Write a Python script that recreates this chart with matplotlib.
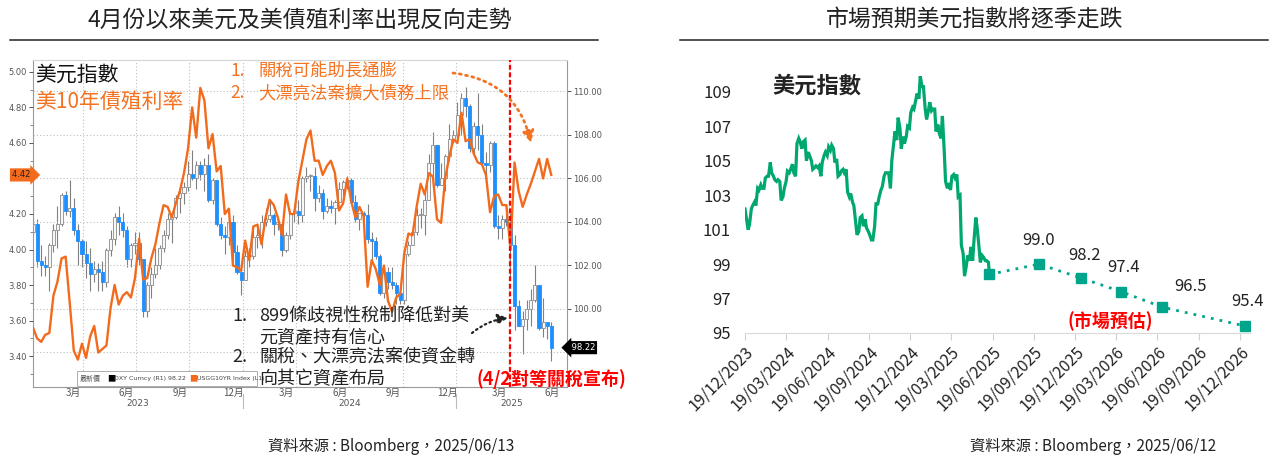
import matplotlib
matplotlib.use('Agg')
import matplotlib.pyplot as plt
import matplotlib.dates as mdates
import matplotlib.transforms as mtransforms
from matplotlib.patches import Rectangle
from matplotlib.ticker import FixedLocator, FuncFormatter, MultipleLocator
import pandas as pd

plt.rcParams['font.family'] = ['Noto Sans CJK TC', 'DejaVu Sans']

W, H = 1274, 459

# ---------------- left panel data: weekly DXY candles + US 10Y yield
week_end = pd.date_range('2023-01-06', '2025-06-13', freq='W-FRI')
dxy_first_open = 103.5
dxy_close = [
    # 2023
    103.9, 102.2, 102.0, 101.9, 102.9, 103.6, 103.9, 105.2, 104.5, 104.6, 103.6, 103.1, 102.5,
    102.1, 101.6, 101.8, 101.7, 101.2, 102.7, 103.2, 104.2, 104.0, 103.6, 102.3, 102.9, 103.0,
    102.3, 99.9, 101.1, 101.6, 102.0, 102.8, 103.4, 104.1, 104.2, 105.1, 105.3, 105.6, 106.2,
    106.0, 106.6, 106.2, 106.6, 105.0, 105.9, 103.9, 103.4, 103.3, 104.0, 102.6, 101.7, 101.3,
    # 2024
    102.4, 102.4, 103.3, 103.4, 104.0, 104.1, 104.3, 103.9, 103.9, 102.7, 103.4, 104.4, 104.5,
    104.3, 106.0, 106.1, 106.1, 105.1, 105.3, 104.5, 104.7, 104.6, 104.9, 105.5, 105.8, 105.9,
    104.9, 104.1, 104.4, 104.3, 103.2, 103.1, 102.4, 100.7, 101.7, 101.2, 101.1, 100.7, 100.4,
    102.5, 102.9, 103.5, 104.3, 104.3, 105.0, 106.7, 107.5, 105.7, 106.0, 107.0, 107.8, 108.0,
    # 2025
    108.9, 109.7, 109.3, 107.4, 108.4, 108.0, 106.7, 106.6, 107.6, 103.8, 103.7, 104.1, 104.0,
    102.9, 100.1, 99.2, 99.5, 100.0, 100.4, 101.1, 99.1, 99.4, 99.2, 98.2,
]
dxy_high = [
    105.0, 104.1, 102.9, 102.4, 103.0, 103.9, 104.7, 105.3, 105.4, 105.9, 105.1, 103.9, 103.2,
    103.1, 102.8, 102.2, 102.1, 102.2, 102.8, 103.6, 104.4, 104.7, 104.4, 103.8, 103.0, 103.5,
    103.5, 102.3, 101.2, 101.9, 102.8, 102.9, 103.6, 104.4, 104.2, 105.2, 105.4, 105.8, 106.8,
    107.3, 106.8, 106.8, 106.9, 107.1, 106.0, 105.9, 104.2, 103.8, 104.1, 104.3, 102.9, 101.9,
    102.7, 102.8, 103.7, 103.8, 104.3, 104.6, 105.0, 104.4, 104.2, 103.9, 103.5, 104.5, 104.6,
    105.0, 106.1, 106.5, 106.2, 106.5, 105.7, 105.5, 105.1, 105.0, 105.0, 105.8, 105.9, 106.1,
    106.0, 105.2, 104.4, 104.5, 104.8, 103.5, 103.3, 102.5, 101.8, 101.9, 101.9, 101.2, 101.0,
    102.7, 103.1, 103.9, 104.6, 104.6, 105.4, 107.1, 108.1, 107.5, 106.7, 107.1, 108.5, 108.2,
    109.5, 109.9, 110.2, 109.4, 108.6, 109.9, 108.5, 107.2, 107.7, 107.7, 104.3, 104.3, 104.7,
    104.4, 103.4, 100.4, 99.9, 100.4, 100.9, 102.0, 101.1, 100.5, 99.4, 99.4,
]
dxy_low = [
    103.4, 101.9, 101.5, 101.5, 100.8, 102.6, 102.8, 103.8, 104.3, 104.2, 103.4, 102.0, 101.9,
    101.4, 100.8, 101.2, 100.8, 100.8, 101.0, 102.4, 102.9, 103.4, 103.3, 101.9, 101.9, 102.5,
    102.0, 99.6, 99.6, 100.5, 101.4, 101.8, 102.6, 103.2, 103.0, 104.1, 104.4, 104.8, 105.4,
    105.9, 105.5, 105.9, 105.4, 104.9, 104.8, 103.8, 103.2, 102.5, 102.9, 102.2, 101.6, 100.6,
    101.3, 101.9, 102.3, 102.8, 102.8, 103.8, 104.0, 103.4, 103.6, 102.4, 102.6, 103.2, 104.0,
    103.9, 104.0, 105.8, 105.4, 104.5, 104.9, 104.1, 104.4, 104.4, 103.9, 104.9, 105.0, 105.5,
    104.8, 104.0, 103.6, 104.1, 103.0, 102.2, 102.3, 100.6, 100.5, 100.9, 100.9, 100.2, 100.2,
    100.2, 102.4, 102.9, 103.4, 103.7, 103.4, 105.0, 106.1, 105.6, 105.7, 105.4, 106.8, 107.6,
    107.9, 108.0, 108.8, 107.2, 107.0, 107.3, 106.6, 106.1, 106.3, 103.7, 103.2, 103.2, 103.8,
    101.3, 99.0, 99.2, 97.9, 99.0, 99.2, 100.3, 99.0, 98.7, 98.6, 97.6,
]
ust10y = [
    # 2023
    3.56, 3.50, 3.48, 3.52, 3.53, 3.74, 3.82, 3.95, 3.96, 3.70, 3.43, 3.38, 3.47,
    3.39, 3.51, 3.57, 3.42, 3.44, 3.46, 3.67, 3.80, 3.69, 3.74, 3.76, 3.73, 3.84,
    4.06, 3.83, 3.84, 3.95, 4.03, 4.15, 4.25, 4.24, 4.18, 4.26, 4.33, 4.43, 4.57,
    4.80, 4.63, 4.91, 4.84, 4.57, 4.65, 4.44, 4.47, 4.20, 4.23, 3.91, 3.90, 3.88,
    # 2024
    4.05, 3.94, 4.13, 4.14, 4.03, 4.18, 4.28, 4.25, 4.18, 4.08, 4.31, 4.20, 4.20,
    4.38, 4.50, 4.62, 4.67, 4.50, 4.50, 4.42, 4.47, 4.50, 4.43, 4.22, 4.26, 4.40,
    4.27, 4.18, 4.24, 4.19, 3.79, 3.94, 3.89, 3.80, 3.91, 3.71, 3.65, 3.73, 3.75,
    3.98, 4.09, 4.08, 4.24, 4.37, 4.31, 4.43, 4.41, 4.17, 4.15, 4.40, 4.52, 4.62,
    # 2025
    4.60, 4.77, 4.61, 4.62, 4.54, 4.49, 4.48, 4.42, 4.21, 4.30, 4.31, 4.25, 4.25,
    4.00, 4.49, 4.33, 4.24, 4.31, 4.37, 4.44, 4.51, 4.40, 4.51, 4.42,
]
tariff_day = pd.Timestamp('2025-04-03')

# ---------------- right panel data: DXY (Tue/Fri) + market forecast
dxy_days = pd.date_range('2023-12-19', '2025-06-10', freq='W-TUE').union(
    pd.date_range('2023-12-19', '2025-06-10', freq='W-FRI'))
dxy_line = [
    102.2, 101.7, 101.0, 101.3,
    102.2, 102.4, 102.6, 102.4, 103.4, 103.3, 103.6, 103.4, 103.4,
    104.0, 104.1, 104.1, 104.9, 104.3, 104.1, 103.9, 103.8,
    103.9, 103.8, 102.7, 102.9, 103.4, 103.8, 104.4, 104.3, 104.5,
    104.8, 104.3, 104.1, 106.0, 106.3, 106.1, 105.7, 106.1, 106.2,
    105.0, 105.5, 105.3, 105.0, 104.5, 104.6, 104.7, 104.6, 104.7,
    104.1, 104.9, 105.3, 105.5, 105.3, 105.8, 105.6, 105.9,
    105.7, 104.9, 105.1, 104.1, 104.2, 104.4, 104.5, 104.3, 104.5,
    103.2, 102.9, 103.1, 102.6, 102.4, 101.4, 100.7, 100.9, 101.7,
    101.8, 101.2, 101.6, 101.1, 100.9, 100.7, 100.4, 100.4,
    101.2, 102.5, 102.5, 102.9, 103.3, 103.5, 104.1, 104.3, 104.3,
    104.3, 103.4, 105.0, 106.0, 106.7, 106.2, 107.5, 106.9, 105.7,
    106.4, 106.0, 106.4, 107.0, 106.9, 107.8, 108.1, 108.0, 108.5,
    108.9, 108.6, 109.9, 109.3, 109.3, 108.0, 107.4, 107.9, 108.4,
    107.9, 108.0, 108.0, 106.7, 107.1, 106.6, 106.3, 107.6,
    105.6, 103.8, 103.4, 103.7, 103.3, 104.1, 104.2, 104.0,
    104.2, 102.9, 103.0, 100.1, 99.6, 98.3, 98.9, 99.5, 99.2,
    100.0, 99.2, 100.4, 101.7, 101.1, 100.0, 99.1, 99.5, 99.4,
    99.2, 99.2, 99.1,
]
fc_dates = pd.to_datetime(['2025-06-12', '2025-09-30', '2025-12-31',
                           '2026-03-31', '2026-06-30', '2026-12-31'])
fc_vals = [98.4, 99.0, 98.2, 97.4, 96.5, 95.4]
fc_offsets = [None, (0, 15), (4, 14), (2, 16), (28, 12), (2, 16)]

ORANGE = '#F26B1D'
ORANGE_TXT = '#F47321'
BLUE = '#1E8FFF'
GREEN = '#00A870'
TEAL = '#00A58C'


def box(x0, y0, x1, y1):
    return [x0 / W, 1 - y1 / H, (x1 - x0) / W, (y1 - y0) / H]


def skip_label(hidden):
    # labels that sit under the value tags in the source chart
    return FuncFormatter(lambda v, p: '' if abs(v - hidden) < 1e-6 else f'{v:.2f}')


fig = plt.figure(figsize=(W / 100, H / 100), dpi=100, facecolor='white')

# ---------------- left chart (Bloomberg style)
ax = fig.add_axes(box(33, 60, 567, 387))
ax2 = ax.twinx()
ax.yaxis.tick_right()
ax2.yaxis.tick_left()

x = mdates.date2num(week_end)
opens = [dxy_first_open] + dxy_close[:-1]
for xi, o, c, hi, lo in zip(x, opens, dxy_close, dxy_high, dxy_low):
    up = c >= o
    ax.vlines(xi, lo, hi, color='#808080', lw=0.8, zorder=1)
    ax.bar(xi, max(abs(c - o), 0.06), bottom=min(o, c), width=5.3,
           color='#F7F7F7' if up else BLUE, edgecolor='#8A8A8A' if up else BLUE,
           linewidth=0.6, zorder=2)

ax2.plot(x, ust10y, color=ORANGE, lw=1.7, zorder=3)
ax2.axvline(mdates.date2num(tariff_day), color='#FF0000', lw=1.6,
            ls=(0, (2.2, 1.2)), zorder=5)

ax.set_xlim(mdates.date2num(pd.Timestamp('2023-01-06')),
            mdates.date2num(pd.Timestamp('2025-07-10')))
ax.set_ylim(96.39, 111.43)
ax2.set_ylim(3.226, 5.067)

ax.yaxis.set_major_locator(FixedLocator([98, 100, 102, 104, 106, 108, 110]))
ax.yaxis.set_major_formatter(skip_label(98.0))
ax2.yaxis.set_major_locator(MultipleLocator(0.2))
ax2.yaxis.set_minor_locator(MultipleLocator(0.1))
ax2.yaxis.set_major_formatter(skip_label(4.4))
for a in (ax, ax2):
    a.tick_params(axis='y', labelsize=6, colors='#555555', length=3, width=0.7, pad=1.5)
    for lab in a.get_yticklabels():
        lab.set_family('DejaVu Sans')
ax2.tick_params(axis='y', which='minor', length=2, color='#777777')

quarter_starts = pd.to_datetime(['2023-04-01', '2023-07-01', '2023-10-01', '2024-01-01',
                                 '2024-04-01', '2024-07-01', '2024-10-01', '2025-01-01',
                                 '2025-04-01'])
month_mid = pd.to_datetime(['2023-03-16', '2023-06-15', '2023-09-15', '2023-12-16',
                            '2024-03-16', '2024-06-15', '2024-09-15', '2024-12-16',
                            '2025-03-16', '2025-06-15'])
ax.xaxis.set_major_locator(FixedLocator(mdates.date2num(quarter_starts)))
ax.xaxis.set_minor_locator(FixedLocator(mdates.date2num(month_mid)))
ax.xaxis.set_major_formatter(plt.NullFormatter())
ax.set_xticklabels([f'{d.month}月' for d in month_mid], minor=True)
ax.tick_params(axis='x', which='both', length=0, labelsize=7, colors='#555555', pad=1)
ax.grid(True, which='major', ls=(0, (1, 2)), color='#BDBDBD', lw=0.8)
for sp in ax.spines.values():
    sp.set_color('#9A9A9A')
    sp.set_linewidth(0.8)
ax.spines['top'].set_color('#D5D5D5')
for sp in ax2.spines.values():
    sp.set_visible(False)

xmin, xmax = ax.get_xlim()
year_bounds = [xmin, mdates.date2num(pd.Timestamp('2024-01-01')),
               mdates.date2num(pd.Timestamp('2025-01-01')), xmax]
blend = mtransforms.blended_transform_factory(ax.transData, ax.transAxes)
for i, yr in enumerate(['2023', '2024', '2025']):
    ax.text((year_bounds[i] + year_bounds[i + 1]) / 2, -0.05, yr, transform=blend,
            ha='center', va='center', fontsize=6.5, color='#555555', family='DejaVu Sans')
for xb in year_bounds[1:3]:
    ax.plot([xb, xb], [-0.02, -0.065], transform=blend, color='#BBBBBB', lw=0.8, clip_on=False)

# value tags on the axes
ax2.text(0, ust10y[-1], '4.42 ', transform=mtransforms.blended_transform_factory(ax2.transAxes, ax2.transData),
         ha='right', va='center', fontsize=6, color='#222222', family='DejaVu Sans', zorder=6,
         bbox=dict(boxstyle='rarrow,pad=0.25', fc=ORANGE, ec='none'))
ax.text(1.003, dxy_close[-1], ' 98.22', transform=mtransforms.blended_transform_factory(ax.transAxes, ax.transData),
        ha='left', va='center', fontsize=6, color='white', family='DejaVu Sans', zorder=6,
        bbox=dict(boxstyle='larrow,pad=0.25', fc='black', ec='none'))

# ---------------- right chart
axr = fig.add_axes(box(745, 66, 1250, 333))
axr.plot(dxy_days.append(fc_dates[:1]), dxy_line + fc_vals[:1], color=GREEN, lw=2.3,
         solid_joinstyle='miter')
axr.plot(fc_dates, fc_vals, color=TEAL, lw=2, ls=(0, (1, 2.2)), marker='s', ms=6.5,
         mfc=TEAL, mec=TEAL)
for d, v, off in zip(fc_dates, fc_vals, fc_offsets):
    if off is None:
        continue
    axr.annotate(f'{v:.1f}', (d, v), xytext=off, textcoords='offset pixels',
                 ha='center', va='bottom', fontsize=12, color='#222222')

axr.set_xlim(pd.Timestamp('2023-12-19'), pd.Timestamp('2027-01-10'))
axr.set_ylim(95, 110.5)
axr.set_yticks([95, 97, 99, 101, 103, 105, 107, 109])
qticks = [pd.Timestamp('2023-12-19') + pd.DateOffset(months=3 * i) for i in range(13)]
axr.set_xticks(qticks)
axr.set_xticklabels([d.strftime('%d/%m/%Y') for d in qticks], rotation=45,
                    ha='right', rotation_mode='anchor')
axr.tick_params(axis='y', length=0, labelsize=12, colors='#222222', pad=10)
axr.tick_params(axis='x', length=5, color='#D0D0D0', labelsize=11.5, labelcolor='#222222', pad=2)
for s in ('left', 'right', 'top'):
    axr.spines[s].set_visible(False)
axr.spines['bottom'].set_color('#D9D9D9')

# ---------------- overlay: titles, notes, arrows
ov = fig.add_axes([0, 0, 1, 1], zorder=10)
ov.set_xlim(0, W)
ov.set_ylim(H, 0)
ov.axis('off')

ov.text(300, 20, '4月份以來美元及美債殖利率出現反向走勢', ha='center', va='center',
        fontsize=16.5, color='#222222')
ov.text(975, 20, '市場預期美元指數將逐季走跌', ha='center', va='center',
        fontsize=16.5, color='#222222')
ov.plot([10, 598], [40, 40], color='#222222', lw=1.1)
ov.plot([680, 1268], [40, 40], color='#222222', lw=1.1)

ov.text(35, 75, '美元指數', ha='left', va='center', fontsize=15, color='#111111')
ov.text(35, 102, '美10年債殖利率', ha='left', va='center', fontsize=15, color=ORANGE_TXT)
ov.text(230, 71, '1.', ha='left', va='center', fontsize=12.5, color=ORANGE_TXT)
ov.text(258, 71, '關稅可能助長通膨', ha='left', va='center', fontsize=12.5, color=ORANGE_TXT)
ov.text(230, 93, '2.', ha='left', va='center', fontsize=12.5, color=ORANGE_TXT)
ov.text(258, 93, '大漂亮法案擴大債務上限', ha='left', va='center', fontsize=12.5, color=ORANGE_TXT)

# bloomberg legend strip (its right end is hidden by the note below)
ov.add_patch(Rectangle((77, 371), 180, 15, fc='white', ec='#A0A0A0', lw=0.6))
ov.text(80, 378.5, '最新價', fontsize=5, color='#555555', va='center')
ov.text(107, 378.5, '■', fontsize=6, color='black', va='center')
ov.text(114, 378.5, 'DXY Curncy (R1) 98.22', fontsize=4.5, color='#444444', va='center',
        family='DejaVu Sans')
ov.text(189, 378.5, '■', fontsize=6, color=ORANGE, va='center')
ov.text(197, 378.5, 'USGG10YR Index (L1)', fontsize=4.5, color='#444444', va='center',
        family='DejaVu Sans')

ov.text(232, 316, '1.', ha='left', va='center', fontsize=13, color='#222222')
ov.text(259, 316, '899條歧視性稅制降低對美', ha='left', va='center', fontsize=13, color='#222222')
ov.text(259, 338, '元資產持有信心', ha='left', va='center', fontsize=13, color='#222222')
ov.text(232, 357, '2.', ha='left', va='center', fontsize=13, color='#222222')
ov.text(259, 357, '關稅、大漂亮法案使資金轉', ha='left', va='center', fontsize=13, color='#222222')
ov.text(259, 379, '向其它資產布局', ha='left', va='center', fontsize=13, color='#222222')
ov.text(477, 379, '(4/2對等關稅宣布)', ha='left', va='center', fontsize=13, color='#FF0000',
        fontweight='bold')

ov.annotate('', xy=(531, 143), xytext=(453, 73),
            arrowprops=dict(arrowstyle='-|>,head_length=0.7,head_width=0.35', color=ORANGE_TXT,
                            lw=2, ls=(0, (0.7, 1.6)), connectionstyle='arc3,rad=-0.35',
                            shrinkA=0, shrinkB=0))
ov.annotate('', xy=(508, 318), xytext=(472, 333),
            arrowprops=dict(arrowstyle='-|>,head_length=0.6,head_width=0.3', color='#222222',
                            lw=1.6, ls=(0, (0.7, 1.6)), connectionstyle='arc3,rad=-0.15',
                            shrinkA=0, shrinkB=0))

ov.text(772, 86, '美元指數', ha='left', va='center', fontsize=16, fontweight='bold', color='#222222')
ov.text(1110, 321, '(市場預估)', ha='center', va='center', fontsize=13, fontweight='bold',
        color='#FF0000')

ov.text(268, 446, '資料來源 : Bloomberg，2025/06/13', ha='left', va='center', fontsize=11,
        color='#222222')
ov.text(970, 446, '資料來源 : Bloomberg，2025/06/12', ha='left', va='center', fontsize=11,
        color='#222222')

fig.savefig('out.png', dpi=100, facecolor='white')
